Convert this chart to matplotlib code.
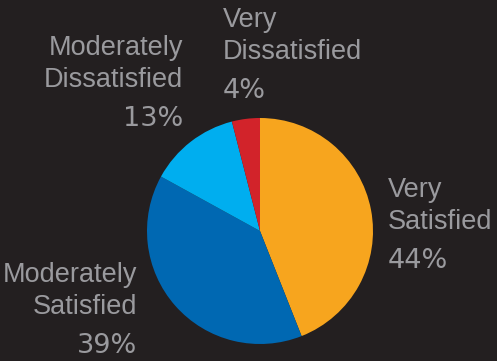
import matplotlib
matplotlib.use("Agg")
import matplotlib.pyplot as plt

# Survey satisfaction shares
categories = ["Very Satisfied", "Moderately Satisfied", "Moderately Dissatisfied", "Very Dissatisfied"]
shares = [44, 39, 13, 4]
colors = ["#F7A51E", "#0068B2", "#00AEEF", "#D2232A"]

W, H = 497, 361
BG = "#231F20"
TEXT = "#9A9A9E"

fig = plt.figure(figsize=(W / 100, H / 100), dpi=100, facecolor=BG)

# pie placement in pixels (center x, center y from top, radius)
cx, cy, r = 260, 231, 113
ax = fig.add_axes([(cx - r) / W, (H - cy - r) / H, 2 * r / W, 2 * r / H])
ax.set_facecolor(BG)
ax.pie(shares, colors=colors, startangle=90, counterclock=False,
       wedgeprops=dict(linewidth=0))
ax.set_xlim(-1, 1)
ax.set_ylim(-1, 1)
ax.set_aspect("equal")
ax.axis("off")

# label anchors: (x, first-line baseline from top, alignment)
label_pos = {
    "Very Satisfied": (388, 197, "left"),
    "Moderately Satisfied": (137, 282, "right"),
    "Moderately Dissatisfied": (183, 55, "right"),
    "Very Dissatisfied": (223, 27, "left"),
}
line_gap = 32
pct_gap = 39
fs = 19.5
name_family = ["Liberation Sans", "DejaVu Sans"]
pct_family = ["DejaVu Sans"]

for name, val in zip(categories, shares):
    x, y, ha = label_pos[name]
    lines = name.split(" ", 1)
    for i, ln in enumerate(lines):
        fig.text(x / W, 1 - (y + i * line_gap) / H, ln, ha=ha, va="baseline",
                 color=TEXT, fontsize=fs, family=name_family)
    yp = y + (len(lines) - 1) * line_gap + pct_gap
    fig.text(x / W, 1 - yp / H, f"{val}%", ha=ha, va="baseline",
             color=TEXT, fontsize=fs, family=pct_family)

fig.savefig("out.png", dpi=100, facecolor=BG)
